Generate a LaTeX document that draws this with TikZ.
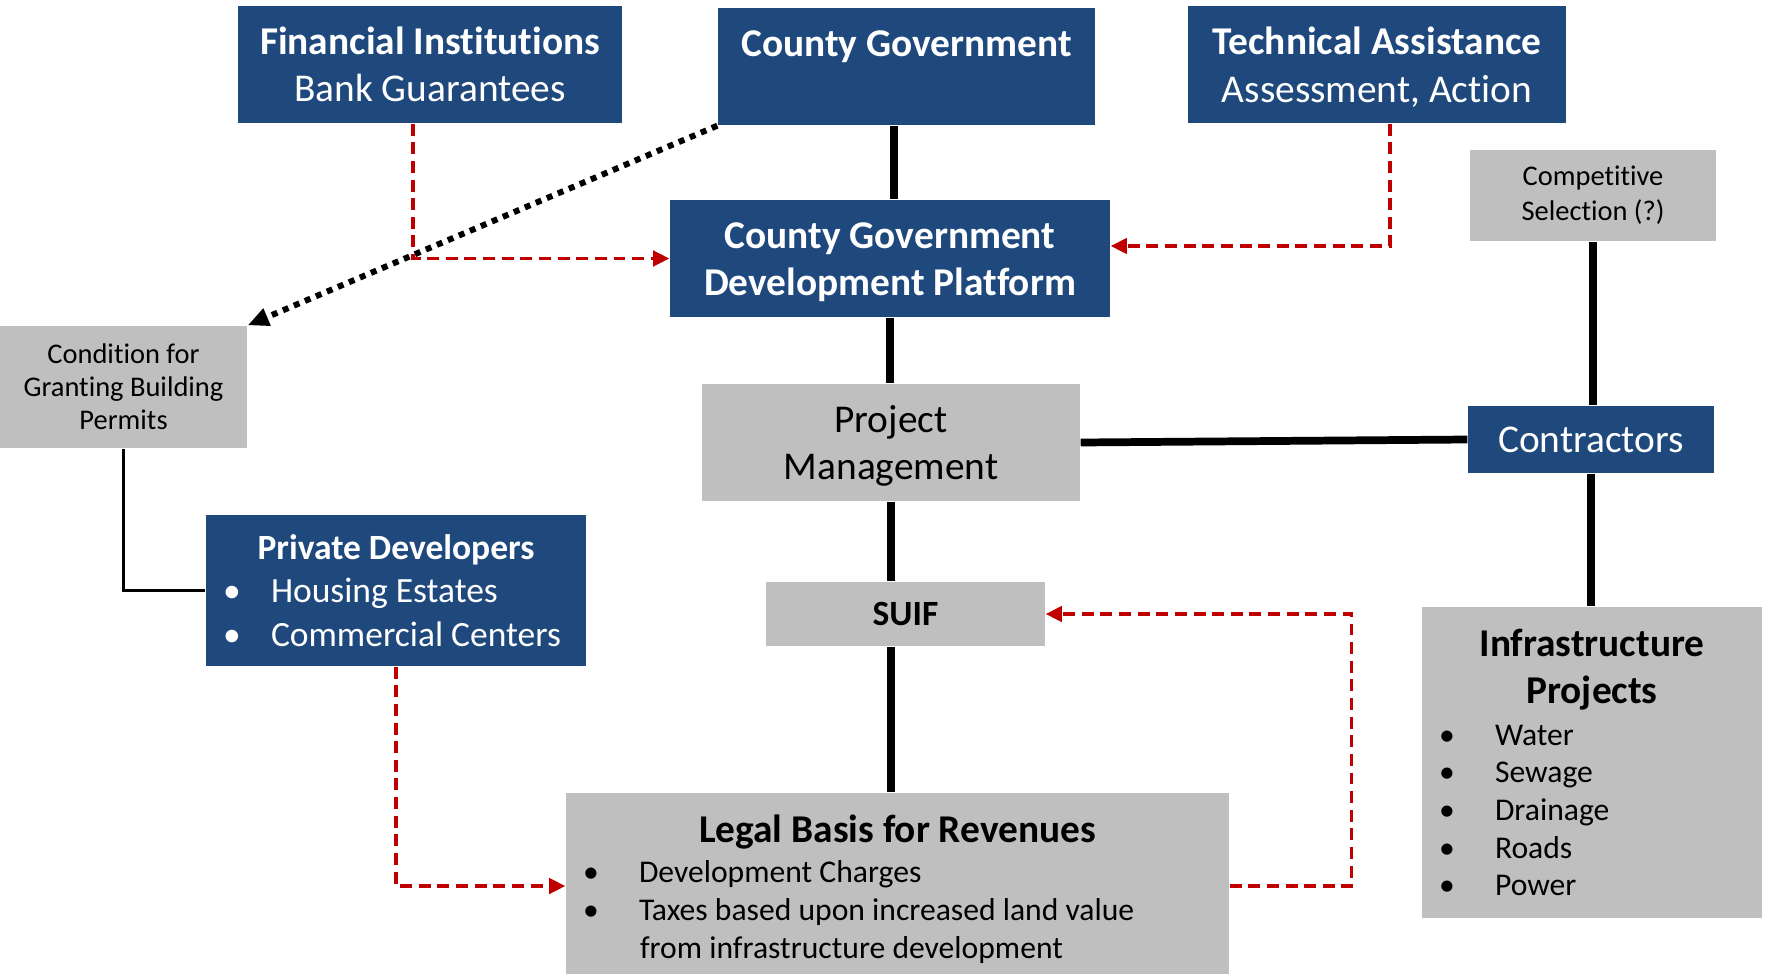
\documentclass[tikz,border=0pt]{standalone}
\usepackage{fontspec}
\setmainfont{Carlito}[Ligatures=NoCommon]
\usetikzlibrary{arrows.meta}

\definecolor{boxblue}{HTML}{1F497D}
\definecolor{boxgrey}{HTML}{BFBFBF}
\definecolor{linkred}{HTML}{C00000}

\newcommand{\bigtext}{\fontsize{11.2}{13.4}\selectfont}
\newcommand{\midtext}{\fontsize{10.1}{12.3}\selectfont}
\newcommand{\itemtext}{\fontsize{9}{10.7}\selectfont}
\newcommand{\smalltext}{\fontsize{8.1}{9.4}\selectfont}
% taller first line, pushes the text block down a little
\newcommand{\topstrut}{\rule{0pt}{9.4pt}}
% bullet line: indent, bullet, text
\newcommand{\blitem}[2][0.56cm]{\par\noindent\hspace*{0.17cm}\makebox[#1][l]{\textbullet}#2}

\begin{document}
\begin{tikzpicture}[y=-1cm,
		bluebox/.style={fill=boxblue, text=white, align=center, inner sep=0pt},
		greybox/.style={fill=boxgrey, text=black, align=center, inner sep=0pt},
		link/.style={line width=2.2pt},
		thinlink/.style={line width=0.6pt},
		permit/.style={line width=1.7pt, dash pattern=on 1.7pt off 1.7pt, -{Triangle[length=6pt,width=5pt]}},
		feed/.style={linkred, line width=0.9pt, dash pattern=on 3.4pt off 1.9pt, -{Triangle[length=4.6pt,width=4.4pt]}}]
	\useasboundingbox (0,0) rectangle (17.65,9.73);

	% Top row
	\node[bluebox, minimum width=3.84cm, minimum height=1.17cm, font=\bigtext] (fin) at (4.30,0.645)
		{\textbf{Financial Institutions}\\Bank Guarantees};
	\node[bluebox, minimum width=3.77cm, minimum height=1.17cm, font=\bigtext] (cgov) at (9.065,0.665)
		{\topstrut\textbf{County Government}\\\vphantom{g}};
	\node[bluebox, minimum width=3.78cm, minimum height=1.17cm, font=\bigtext] (tech) at (13.77,0.645)
		{\topstrut\textbf{Technical Assistance}\\Assessment, Action};

	% Middle column
	\node[bluebox, minimum width=4.40cm, minimum height=1.17cm, font=\bigtext\bfseries] (cgdp) at (8.90,2.585)
		{\topstrut County Government\\Development Platform};
	\node[greybox, minimum width=3.78cm, minimum height=1.17cm, font=\bigtext] (pm) at (8.91,4.425)
		{\topstrut Project\\Management};
	\node[greybox, minimum width=2.79cm, minimum height=0.64cm, font=\midtext\bfseries] (suif) at (9.055,6.14) {SUIF};
	\node[greybox, text width=6.63cm, minimum height=1.92cm, align=flush left] (legal) at (8.975,8.89)
		{{\centering\bigtext\bfseries Legal Basis for Revenues\par}
		\itemtext\vspace*{0.03cm}
		\blitem{Development Charges}
		\blitem{Taxes based upon increased land value}
		\par\noindent\hspace*{0.74cm}from infrastructure development\par};

	% Left side
	\node[greybox, minimum width=2.47cm, minimum height=1.22cm, font=\smalltext] (cond) at (1.235,3.87)
		{Condition for\\Granting Building\\Permits};
	\node[bluebox, text width=3.80cm, minimum height=1.51cm, align=flush left, font=\midtext] (priv) at (3.96,5.905)
		{{\centering\bfseries Private Developers\par}
		\blitem[0.48cm]{Housing Estates}
		\blitem[0.48cm]{Commercial Centers}\par};

	% Right side
	\node[greybox, minimum width=2.46cm, minimum height=0.91cm, font=\fontsize{8.1}{10}\selectfont] (comp) at (15.93,1.955)
		{Competitive\\Selection (?)};
	\node[bluebox, minimum width=2.46cm, minimum height=0.67cm, font=\bigtext] (contr) at (15.91,4.395) {Contractors};
	\node[greybox, text width=3.40cm, minimum height=3.11cm, align=flush left] (infra) at (15.92,7.625)
		{{\centering\bigtext\bfseries Infrastructure\par Projects\par}
		\itemtext\vspace*{0.04cm}
		\blitem{Water}
		\blitem{Sewage}
		\blitem{Drainage}
		\blitem{Roads}
		\blitem{Power}\par};

	% Solid links
	\draw[link] ([xshift=0.04cm]cgdp.north |- cgov.south) -- ([xshift=0.04cm]cgdp.north);
	\draw[link] (cgdp.south) -- (cgdp.south |- pm.north);
	\draw[link] (pm.south) -- (pm.south |- suif.north);
	\draw[link] (pm.south |- suif.south) -- (pm.south |- legal.north);
	\draw[link] (pm.east) -- (contr.west);
	\draw[link] (comp.south) -- (comp.south |- contr.north);
	\draw[link] (contr.south) -- (contr.south |- infra.north);
	\draw[thinlink] (cond.south) |- (priv.west);

	% Building permits
	\draw[permit] (cgov.south west) -- (cond.north east);

	% Red feedback arrows
	\draw[feed] ([xshift=-0.17cm]fin.south) |- (cgdp.west);
	\draw[feed] ([xshift=0.13cm]tech.south) |- ([yshift=0.125cm]cgdp.east);
	\draw[feed] (priv.south) |- ([yshift=0.03cm]legal.west);
	\draw[feed] ([yshift=0.03cm]legal.east) -- ++(1.22,0) |- (suif.east);
\end{tikzpicture}
\end{document}
